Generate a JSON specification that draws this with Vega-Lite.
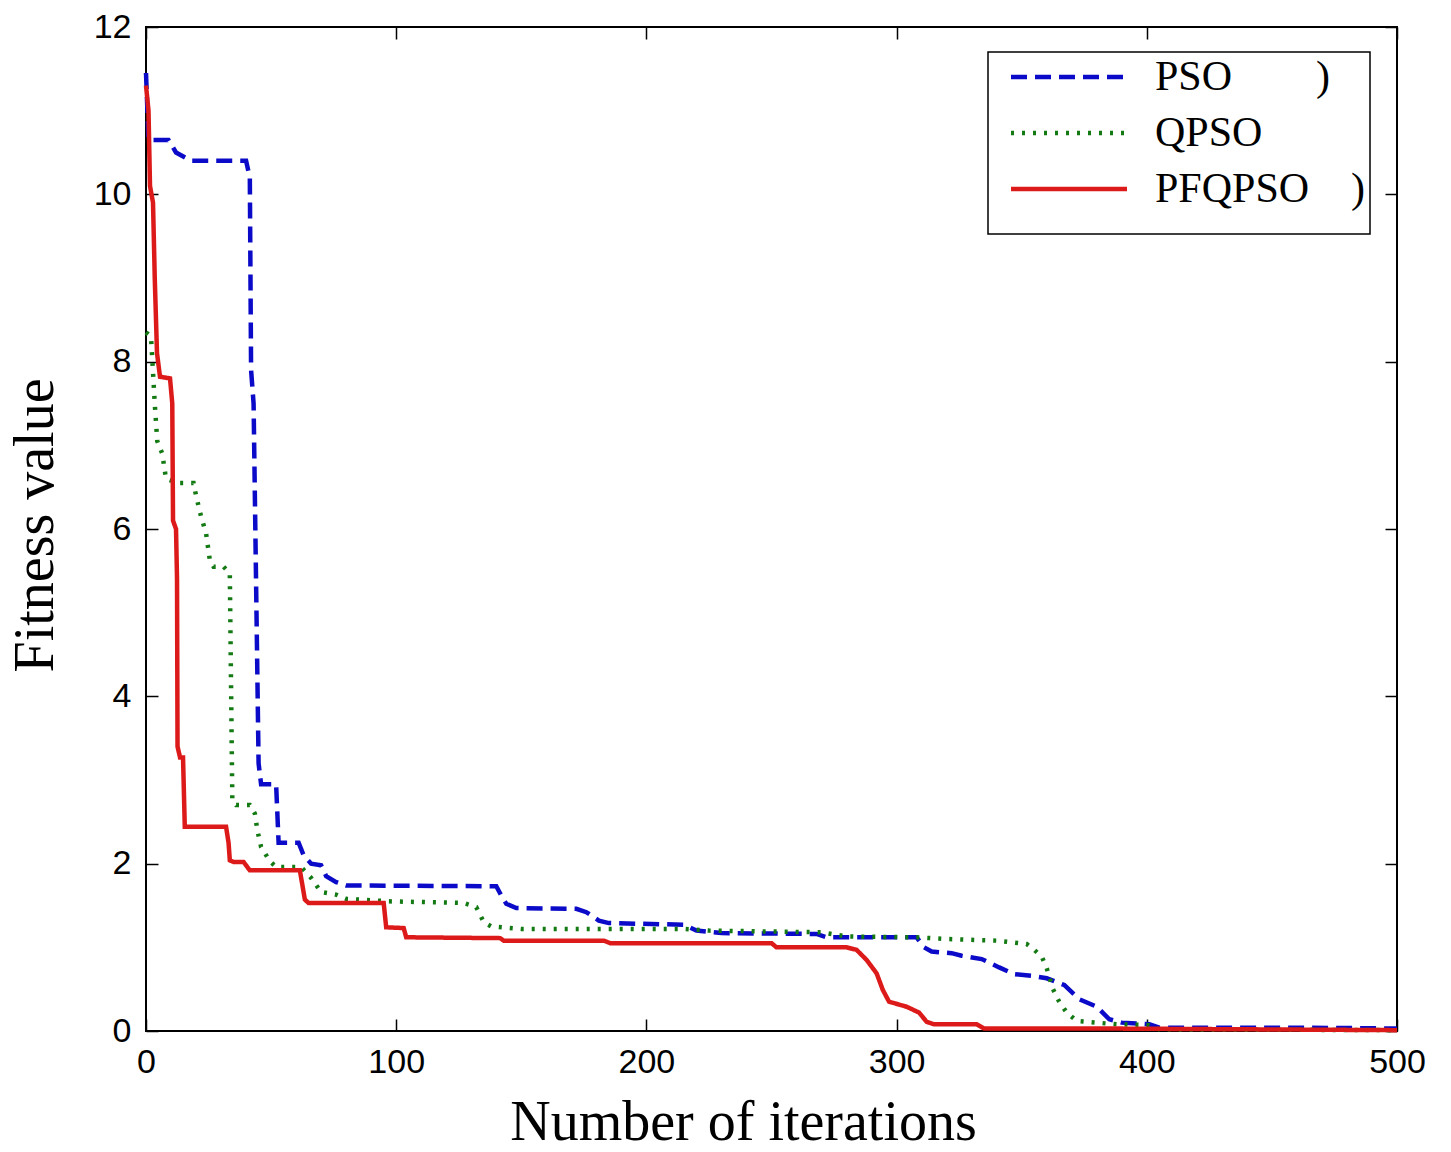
{
  "$schema": "https://vega.github.io/schema/vega-lite/v6.json",
  "width": 1251,
  "height": 1004,
  "autosize": {"type": "none"},
  "padding": {"left": 146, "top": 27, "right": 54, "bottom": 121},
  "background": "white",
  "config": {
    "view": {"stroke": "black", "strokeWidth": 2},
    "axis": {
      "grid": false,
      "domain": false,
      "tickColor": "black",
      "tickWidth": 1.5,
      "tickSize": -12,
      "labelFont": "Liberation Sans",
      "labelFontSize": 34,
      "labelColor": "black",
      "labelFlush": false,
      "labelOverlap": false,
      "titleFont": "Liberation Serif",
      "titleFontSize": 56,
      "titleFontWeight": "normal",
      "titleColor": "black"
    },
    "legend": {
      "orient": "none",
      "legendX": 842,
      "legendY": 25,
      "fillColor": "white",
      "strokeColor": "black",
      "strokeWidth": 1.5,
      "padding": 4,
      "symbolType": "M-5,0H5",
      "symbolSize": 538,
      "symbolStrokeWidth": 4.5,
      "symbolOffset": 56,
      "labelFont": "Liberation Serif",
      "labelFontSize": 42,
      "labelColor": "black",
      "labelOffset": 65,
      "labelLimit": 600,
      "rowPadding": 14,
      "titleOrient": "bottom",
      "titleFontSize": 20,
      "titlePadding": 0
    }
  },
  "data": {
    "values": [
      {"alg": "PSO", "iter": 0, "value": 11.45},
      {"alg": "PSO", "iter": 1, "value": 10.65},
      {"alg": "PSO", "iter": 9, "value": 10.65},
      {"alg": "PSO", "iter": 12, "value": 10.5},
      {"alg": "PSO", "iter": 18, "value": 10.4},
      {"alg": "PSO", "iter": 40, "value": 10.4},
      {"alg": "PSO", "iter": 41.5, "value": 10.2},
      {"alg": "PSO", "iter": 42, "value": 7.9},
      {"alg": "PSO", "iter": 43, "value": 7.5},
      {"alg": "PSO", "iter": 45, "value": 3.2},
      {"alg": "PSO", "iter": 46, "value": 2.95},
      {"alg": "PSO", "iter": 52, "value": 2.95},
      {"alg": "PSO", "iter": 53, "value": 2.25},
      {"alg": "PSO", "iter": 61, "value": 2.25},
      {"alg": "PSO", "iter": 63, "value": 2.1},
      {"alg": "PSO", "iter": 66, "value": 2.0},
      {"alg": "PSO", "iter": 70, "value": 1.98},
      {"alg": "PSO", "iter": 72, "value": 1.85},
      {"alg": "PSO", "iter": 76, "value": 1.78},
      {"alg": "PSO", "iter": 80, "value": 1.74},
      {"alg": "PSO", "iter": 140, "value": 1.73},
      {"alg": "PSO", "iter": 142, "value": 1.62},
      {"alg": "PSO", "iter": 144, "value": 1.52},
      {"alg": "PSO", "iter": 148, "value": 1.47},
      {"alg": "PSO", "iter": 172, "value": 1.46},
      {"alg": "PSO", "iter": 176, "value": 1.42},
      {"alg": "PSO", "iter": 181, "value": 1.32},
      {"alg": "PSO", "iter": 185, "value": 1.29},
      {"alg": "PSO", "iter": 215, "value": 1.27},
      {"alg": "PSO", "iter": 220, "value": 1.2},
      {"alg": "PSO", "iter": 230, "value": 1.17},
      {"alg": "PSO", "iter": 268, "value": 1.16},
      {"alg": "PSO", "iter": 272, "value": 1.12},
      {"alg": "PSO", "iter": 308, "value": 1.12},
      {"alg": "PSO", "iter": 311, "value": 1.0},
      {"alg": "PSO", "iter": 314, "value": 0.95},
      {"alg": "PSO", "iter": 322, "value": 0.93},
      {"alg": "PSO", "iter": 326, "value": 0.9},
      {"alg": "PSO", "iter": 334, "value": 0.86},
      {"alg": "PSO", "iter": 341, "value": 0.76},
      {"alg": "PSO", "iter": 347, "value": 0.68},
      {"alg": "PSO", "iter": 354, "value": 0.66},
      {"alg": "PSO", "iter": 360, "value": 0.63},
      {"alg": "PSO", "iter": 367, "value": 0.55},
      {"alg": "PSO", "iter": 373, "value": 0.38},
      {"alg": "PSO", "iter": 380, "value": 0.29},
      {"alg": "PSO", "iter": 385, "value": 0.14},
      {"alg": "PSO", "iter": 390, "value": 0.1},
      {"alg": "PSO", "iter": 401, "value": 0.08},
      {"alg": "PSO", "iter": 405, "value": 0.04},
      {"alg": "PSO", "iter": 460, "value": 0.04},
      {"alg": "PSO", "iter": 500, "value": 0.03},
      {"alg": "QPSO", "iter": 0, "value": 8.35},
      {"alg": "QPSO", "iter": 2, "value": 8.3},
      {"alg": "QPSO", "iter": 3.5, "value": 7.5},
      {"alg": "QPSO", "iter": 4.5, "value": 7.05},
      {"alg": "QPSO", "iter": 6.5, "value": 6.9},
      {"alg": "QPSO", "iter": 8, "value": 6.6},
      {"alg": "QPSO", "iter": 13, "value": 6.55},
      {"alg": "QPSO", "iter": 19, "value": 6.55},
      {"alg": "QPSO", "iter": 20, "value": 6.4},
      {"alg": "QPSO", "iter": 22, "value": 6.15},
      {"alg": "QPSO", "iter": 24, "value": 5.95},
      {"alg": "QPSO", "iter": 25.5, "value": 5.63},
      {"alg": "QPSO", "iter": 27, "value": 5.55},
      {"alg": "QPSO", "iter": 31, "value": 5.55},
      {"alg": "QPSO", "iter": 33.5, "value": 5.47},
      {"alg": "QPSO", "iter": 34.5, "value": 2.76},
      {"alg": "QPSO", "iter": 36, "value": 2.7},
      {"alg": "QPSO", "iter": 41.5, "value": 2.7},
      {"alg": "QPSO", "iter": 43.5, "value": 2.6},
      {"alg": "QPSO", "iter": 44.5, "value": 2.4},
      {"alg": "QPSO", "iter": 46, "value": 2.2},
      {"alg": "QPSO", "iter": 49.5, "value": 2.03},
      {"alg": "QPSO", "iter": 52, "value": 1.96},
      {"alg": "QPSO", "iter": 62, "value": 1.96},
      {"alg": "QPSO", "iter": 66, "value": 1.83},
      {"alg": "QPSO", "iter": 70, "value": 1.66},
      {"alg": "QPSO", "iter": 76, "value": 1.63},
      {"alg": "QPSO", "iter": 80, "value": 1.58},
      {"alg": "QPSO", "iter": 97, "value": 1.55},
      {"alg": "QPSO", "iter": 127, "value": 1.53},
      {"alg": "QPSO", "iter": 132, "value": 1.48},
      {"alg": "QPSO", "iter": 135, "value": 1.3},
      {"alg": "QPSO", "iter": 138, "value": 1.25},
      {"alg": "QPSO", "iter": 150, "value": 1.22},
      {"alg": "QPSO", "iter": 215, "value": 1.22},
      {"alg": "QPSO", "iter": 225, "value": 1.2},
      {"alg": "QPSO", "iter": 270, "value": 1.18},
      {"alg": "QPSO", "iter": 280, "value": 1.13},
      {"alg": "QPSO", "iter": 308, "value": 1.12},
      {"alg": "QPSO", "iter": 320, "value": 1.1},
      {"alg": "QPSO", "iter": 340, "value": 1.08},
      {"alg": "QPSO", "iter": 352, "value": 1.04},
      {"alg": "QPSO", "iter": 355, "value": 0.97},
      {"alg": "QPSO", "iter": 358, "value": 0.89},
      {"alg": "QPSO", "iter": 360, "value": 0.75},
      {"alg": "QPSO", "iter": 362.5, "value": 0.5},
      {"alg": "QPSO", "iter": 365, "value": 0.35},
      {"alg": "QPSO", "iter": 368, "value": 0.22},
      {"alg": "QPSO", "iter": 372, "value": 0.12},
      {"alg": "QPSO", "iter": 380, "value": 0.1},
      {"alg": "QPSO", "iter": 388, "value": 0.08},
      {"alg": "QPSO", "iter": 401, "value": 0.07},
      {"alg": "QPSO", "iter": 405, "value": 0.02},
      {"alg": "QPSO", "iter": 500, "value": 0.01},
      {"alg": "PFQPSO", "iter": 0, "value": 11.3},
      {"alg": "PFQPSO", "iter": 1, "value": 11.0},
      {"alg": "PFQPSO", "iter": 1.6, "value": 10.1},
      {"alg": "PFQPSO", "iter": 2.8, "value": 9.9},
      {"alg": "PFQPSO", "iter": 3.5, "value": 9.0},
      {"alg": "PFQPSO", "iter": 4.4, "value": 8.1},
      {"alg": "PFQPSO", "iter": 5.6, "value": 7.82},
      {"alg": "PFQPSO", "iter": 9.6, "value": 7.8},
      {"alg": "PFQPSO", "iter": 10.5, "value": 7.5},
      {"alg": "PFQPSO", "iter": 10.8, "value": 6.1},
      {"alg": "PFQPSO", "iter": 12, "value": 6.0},
      {"alg": "PFQPSO", "iter": 12.4, "value": 5.4},
      {"alg": "PFQPSO", "iter": 12.6, "value": 3.4},
      {"alg": "PFQPSO", "iter": 13.6, "value": 3.27},
      {"alg": "PFQPSO", "iter": 14.8, "value": 3.27},
      {"alg": "PFQPSO", "iter": 15.5, "value": 2.44},
      {"alg": "PFQPSO", "iter": 32, "value": 2.44},
      {"alg": "PFQPSO", "iter": 33, "value": 2.25},
      {"alg": "PFQPSO", "iter": 33.5, "value": 2.04},
      {"alg": "PFQPSO", "iter": 35, "value": 2.02},
      {"alg": "PFQPSO", "iter": 39, "value": 2.02},
      {"alg": "PFQPSO", "iter": 41.5, "value": 1.92},
      {"alg": "PFQPSO", "iter": 61.5, "value": 1.92},
      {"alg": "PFQPSO", "iter": 63.5, "value": 1.57},
      {"alg": "PFQPSO", "iter": 65, "value": 1.53},
      {"alg": "PFQPSO", "iter": 95, "value": 1.53},
      {"alg": "PFQPSO", "iter": 96, "value": 1.24},
      {"alg": "PFQPSO", "iter": 103, "value": 1.23},
      {"alg": "PFQPSO", "iter": 104, "value": 1.12},
      {"alg": "PFQPSO", "iter": 141.5, "value": 1.11},
      {"alg": "PFQPSO", "iter": 143, "value": 1.08},
      {"alg": "PFQPSO", "iter": 183, "value": 1.08},
      {"alg": "PFQPSO", "iter": 185.5, "value": 1.05},
      {"alg": "PFQPSO", "iter": 250, "value": 1.05},
      {"alg": "PFQPSO", "iter": 252, "value": 1.0},
      {"alg": "PFQPSO", "iter": 280, "value": 1.0},
      {"alg": "PFQPSO", "iter": 284, "value": 0.97},
      {"alg": "PFQPSO", "iter": 288, "value": 0.85},
      {"alg": "PFQPSO", "iter": 292, "value": 0.69},
      {"alg": "PFQPSO", "iter": 294.5, "value": 0.49},
      {"alg": "PFQPSO", "iter": 297, "value": 0.35},
      {"alg": "PFQPSO", "iter": 304, "value": 0.29},
      {"alg": "PFQPSO", "iter": 309, "value": 0.22},
      {"alg": "PFQPSO", "iter": 312, "value": 0.11},
      {"alg": "PFQPSO", "iter": 315, "value": 0.08},
      {"alg": "PFQPSO", "iter": 332, "value": 0.08},
      {"alg": "PFQPSO", "iter": 335, "value": 0.03},
      {"alg": "PFQPSO", "iter": 381, "value": 0.03},
      {"alg": "PFQPSO", "iter": 500, "value": 0.01}
    ]
  },
  "layer": [
    {
      "mark": {"type": "line", "strokeWidth": 4.5, "strokeCap": "butt"},
      "encoding": {
        "x": {
          "field": "iter", "type": "quantitative",
          "scale": {"domain": [0, 500], "nice": false, "zero": false},
          "axis": {
            "orient": "bottom",
            "values": [0, 100, 200, 300, 400, 500],
            "labelPadding": 26,
            "title": "Number of iterations",
            "titleX": 597,
            "titleY": 108,
            "titleAlign": "center",
            "titleBaseline": "alphabetic"
          }
        },
        "y": {
          "field": "value", "type": "quantitative",
          "scale": {"domain": [0, 12], "nice": false},
          "axis": {
            "orient": "left",
            "values": [0, 2, 4, 6, 8, 10, 12],
            "labelPadding": 27,
            "title": "Fitness value",
            "titleX": -94,
            "titleY": 498,
            "titleAngle": 270,
            "titleAlign": "center",
            "titleBaseline": "alphabetic"
          }
        },
        "color": {
          "field": "alg", "type": "nominal",
          "scale": {"domain": ["PSO", "QPSO", "PFQPSO"], "range": ["#0a0ac8", "#137a13", "#dd1a1a"]},
          "legend": {"title": " ", "labelExpr": "datum.label == 'PSO' ? 'PSO\u00a0\u00a0\u00a0\u00a0\u00a0\u00a0\u00a0\u00a0)' : datum.label == 'PFQPSO' ? 'PFQPSO\u00a0\u00a0\u00a0\u00a0)' : datum.label"}
        },
        "strokeDash": {
          "field": "alg", "type": "nominal",
          "scale": {"domain": ["PSO", "QPSO", "PFQPSO"], "range": [[16, 8], [3, 8], [1, 0]]},
          "legend": {"title": " ", "labelExpr": "datum.label == 'PSO' ? 'PSO\u00a0\u00a0\u00a0\u00a0\u00a0\u00a0\u00a0\u00a0)' : datum.label == 'PFQPSO' ? 'PFQPSO\u00a0\u00a0\u00a0\u00a0)' : datum.label"}
        }
      }
    },
    {
      "mark": {"type": "line", "opacity": 0},
      "encoding": {
        "x": {
          "field": "iter", "type": "quantitative",
          "axis": {"orient": "top", "values": [0, 100, 200, 300, 400, 500], "labels": false, "title": null}
        },
        "y": {
          "field": "value", "type": "quantitative",
          "axis": {"orient": "right", "values": [0, 2, 4, 6, 8, 10, 12], "labels": false, "title": null}
        },
        "detail": {"field": "alg", "type": "nominal"}
      }
    }
  ],
  "resolve": {"axis": {"x": "independent", "y": "independent"}}
}
